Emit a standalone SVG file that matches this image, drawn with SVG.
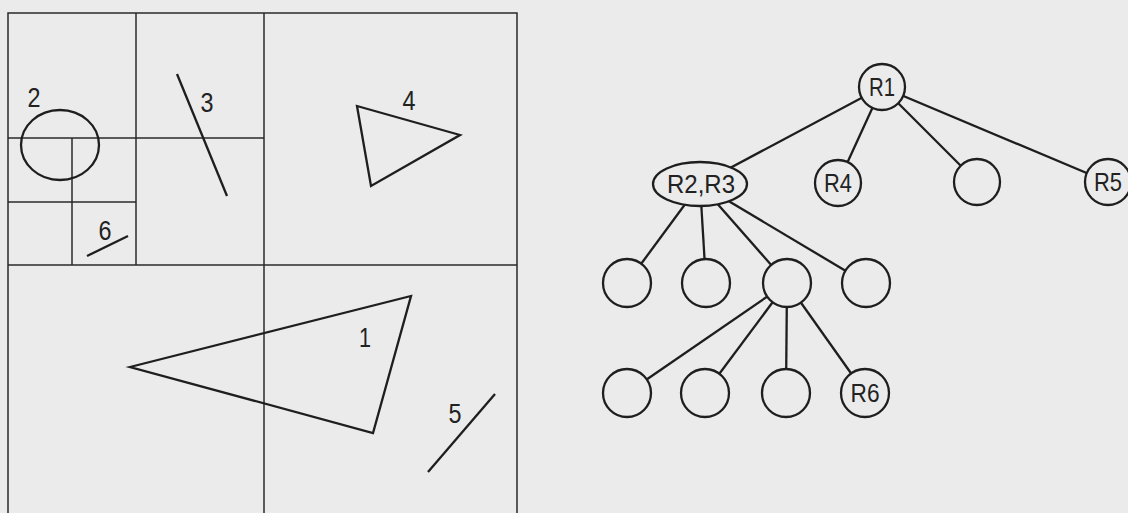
<svg xmlns="http://www.w3.org/2000/svg" width="1128" height="513" viewBox="0 0 1128 513">
<style>
.bg{fill:#ebebeb}
.grid{fill:none;stroke:#2a2a2a;stroke-width:1.5}
.shape{fill:none;stroke:#1e1e1e;stroke-width:2.3;stroke-linejoin:miter}
.lbl{font-family:"Liberation Sans",Arial,sans-serif;font-size:28px;fill:#222;text-anchor:middle}
.edge{stroke:#1e1e1e;stroke-width:2.3}
.node{fill:#ebebeb;stroke:#1e1e1e;stroke-width:2.3}
.nl{font-family:"Liberation Sans",Arial,sans-serif;font-size:26px;fill:#222;text-anchor:middle}
</style>
<rect class="bg" x="0" y="0" width="1128" height="513"/>
<g id="space">
<g id="grid">
<rect class="grid" x="8" y="13" width="509" height="520"/>
<line class="grid" x1="264" y1="13" x2="264" y2="513"/>
<line class="grid" x1="8" y1="265" x2="517" y2="265"/>
<line class="grid" x1="136" y1="13" x2="136" y2="265"/>
<line class="grid" x1="8" y1="138" x2="264" y2="138"/>
<line class="grid" x1="8" y1="202" x2="136" y2="202"/>
<line class="grid" x1="72" y1="138" x2="72" y2="265"/>
</g>
<g id="obj1"><polygon class="shape" points="130,367 411,296 373,433"/><text class="lbl" x="365" y="347" textLength="12" lengthAdjust="spacingAndGlyphs">1</text></g>
<g id="obj2"><ellipse class="shape" cx="60" cy="145" rx="39" ry="35"/><text class="lbl" x="34" y="107" textLength="13" lengthAdjust="spacingAndGlyphs">2</text></g>
<g id="obj3"><line class="shape" x1="177" y1="74" x2="227" y2="196"/><text class="lbl" x="207" y="112" textLength="13" lengthAdjust="spacingAndGlyphs">3</text></g>
<g id="obj4"><polygon class="shape" points="357,106 460,135 371,186"/><text class="lbl" x="409" y="110" textLength="13" lengthAdjust="spacingAndGlyphs">4</text></g>
<g id="obj5"><line class="shape" x1="428" y1="472" x2="495" y2="394"/><text class="lbl" x="455" y="423" textLength="13" lengthAdjust="spacingAndGlyphs">5</text></g>
<g id="obj6"><line class="shape" x1="87" y1="256" x2="128" y2="236"/><text class="lbl" x="105" y="240" textLength="13" lengthAdjust="spacingAndGlyphs">6</text></g>
</g>
<g id="connectors">
<line class="edge" x1="882" y1="87" x2="700" y2="184"/>
<line class="edge" x1="882" y1="87" x2="838" y2="183"/>
<line class="edge" x1="882" y1="87" x2="977" y2="182"/>
<line class="edge" x1="882" y1="87" x2="1108" y2="182"/>
<line class="edge" x1="700" y1="184" x2="627" y2="283"/>
<line class="edge" x1="700" y1="184" x2="706" y2="283"/>
<line class="edge" x1="700" y1="184" x2="787" y2="283"/>
<line class="edge" x1="700" y1="184" x2="866" y2="283"/>
<line class="edge" x1="787" y1="283" x2="627" y2="393"/>
<line class="edge" x1="787" y1="283" x2="705" y2="393"/>
<line class="edge" x1="787" y1="283" x2="786" y2="393"/>
<line class="edge" x1="787" y1="283" x2="865" y2="393"/>
</g>
<g id="R1"><circle class="node" cx="882" cy="87" r="23"/><text class="nl" x="882" y="96" textLength="26" lengthAdjust="spacingAndGlyphs">R1</text></g>
<g id="R23"><ellipse class="node" cx="700" cy="184" rx="47" ry="22"/><text class="nl" x="701" y="193" textLength="68" lengthAdjust="spacingAndGlyphs">R2,R3</text></g>
<g id="R4"><circle class="node" cx="838" cy="183" r="23"/><text class="nl" x="838" y="192" textLength="28" lengthAdjust="spacingAndGlyphs">R4</text></g>
<g id="N1"><circle class="node" cx="977" cy="182" r="23"/></g>
<g id="R5"><circle class="node" cx="1108" cy="182" r="23"/><text class="nl" x="1108" y="191" textLength="28" lengthAdjust="spacingAndGlyphs">R5</text></g>
<g id="A1"><circle class="node" cx="627" cy="283" r="24"/></g>
<g id="A2"><circle class="node" cx="706" cy="283" r="24"/></g>
<g id="A3"><circle class="node" cx="787" cy="283" r="24"/></g>
<g id="A4"><circle class="node" cx="866" cy="283" r="24"/></g>
<g id="B1"><circle class="node" cx="627" cy="393" r="24"/></g>
<g id="B2"><circle class="node" cx="705" cy="393" r="24"/></g>
<g id="B3"><circle class="node" cx="786" cy="393" r="24"/></g>
<g id="R6"><circle class="node" cx="865" cy="393" r="24"/><text class="nl" x="865" y="402" textLength="29" lengthAdjust="spacingAndGlyphs">R6</text></g>
</svg>
